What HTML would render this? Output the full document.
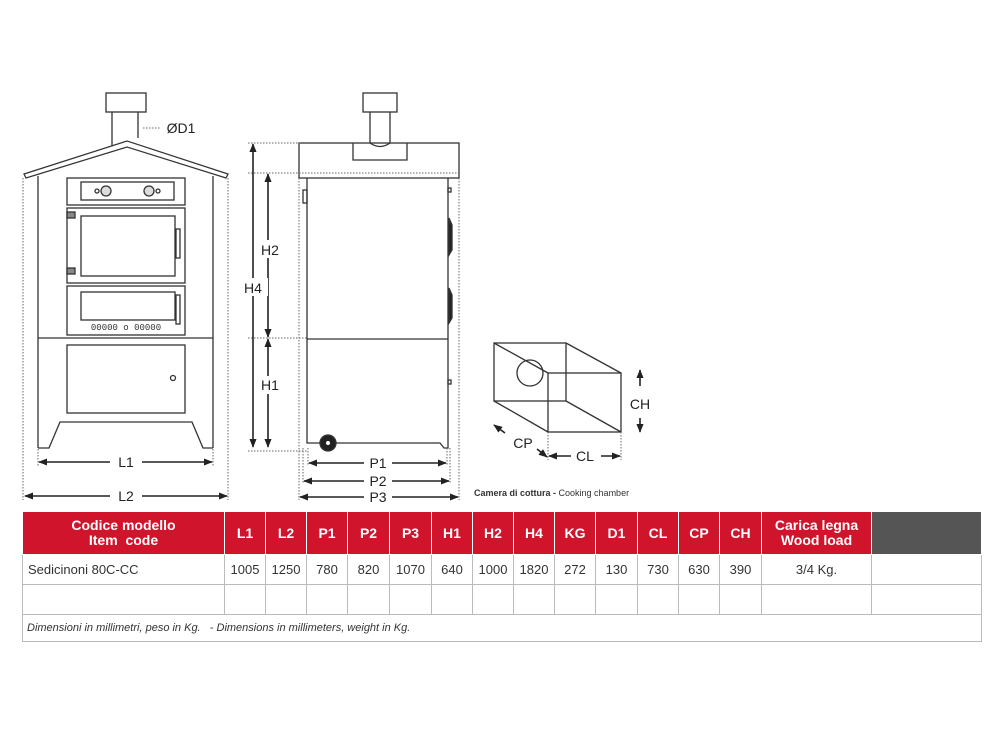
<!DOCTYPE html>
<html><head><meta charset="utf-8"><style>
body{margin:0;width:1000px;height:750px;background:#fff;font-family:"Liberation Sans",sans-serif;overflow:hidden;position:relative}
svg{position:absolute;left:0;top:0}
table{position:absolute;left:22px;top:511px;border-collapse:collapse;width:959px;table-layout:fixed}
td{border:1px solid #bbb;text-align:center;font-size:13px;color:#333;padding:0;height:29px}
tr.h td{background:#d0142c;color:#fff;font-weight:bold;font-size:14px;height:42px;border:1px solid #fff;line-height:15px}
tr.h td.g{background:#555}
td.l{text-align:left;padding-left:5px}
td.f{text-align:left;font-style:italic;font-size:11px;padding-left:4px;height:26px}
</style></head><body>
<svg width="1000" height="510" viewBox="0 0 1000 510">
<defs><marker id="a" viewBox="0 0 10 10" refX="9" refY="5" markerWidth="9" markerHeight="9" orient="auto-start-reverse" markerUnits="userSpaceOnUse"><path d="M0,1 L10,5 L0,9z" fill="#222"/></marker></defs>
<g fill="none" stroke="#333" stroke-width="1.3">
<rect x="106" y="93" width="40" height="19"/>
<path d="M112,112 V148 M138,112 V138"/>
<path d="M24,174 L127,141 L228,174 L226,178 L127,147 L26,178 Z" fill="#fff"/>
<path d="M38,176 V448 M213,176 V448"/>
<rect x="67" y="178" width="118" height="27"/>
<rect x="81" y="182" width="93" height="18"/>
<circle cx="106" cy="191" r="5" fill="#ddd"/><circle cx="149" cy="191" r="5" fill="#ddd"/>
<circle cx="97" cy="191" r="2"/><circle cx="158" cy="191" r="2"/>
<rect x="67" y="208" width="118" height="75"/>
<rect x="81" y="216" width="94" height="60"/>
<rect x="176" y="229" width="4" height="29"/>
<rect x="67" y="212" width="8" height="6" fill="#888"/><rect x="67" y="268" width="8" height="6" fill="#888"/>
<rect x="67" y="286" width="118" height="49"/>
<rect x="81" y="292" width="94" height="28"/>
<rect x="176" y="295" width="4" height="29"/>
<path d="M38,338 H213"/>
<rect x="67" y="345" width="118" height="68"/>
<circle cx="173" cy="378" r="2.5"/>
<path d="M38,448 H49 L60,422 H192 L203,448 H213"/>
<rect x="363" y="93" width="34" height="19"/>
<path d="M370,112 V143 M390,112 V143"/>
<rect x="299" y="143" width="160" height="35"/>
<path d="M353,143 V160 H407 V143"/>
<path d="M370,143 Q380,150 390,143"/>
<path d="M307,178 V443 H440 L444,448 H448 V178"/>
<path d="M307,339 H448"/>
<rect x="303" y="190" width="4" height="13"/>
<path d="M449,218 L452,225 V250 L449,255 Z M449,288 L452,295 V318 L449,323 Z" fill="#222"/>
<rect x="448" y="188" width="3" height="4"/><rect x="448" y="380" width="3" height="4"/>
<circle cx="328" cy="443" r="8" fill="#222"/><circle cx="328" cy="443" r="2" fill="#fff" stroke="none"/>
<rect x="494" y="343" width="72" height="58"/>
<rect x="548" y="373" width="73" height="59"/>
<path d="M494,343 L548,373 M566,343 L621,373 M494,401 L548,432 M566,401 L621,432"/>
<circle cx="530" cy="373" r="13"/>
</g>
<text x="126" y="330" font-family="Liberation Mono,monospace" font-size="9" fill="#333" text-anchor="middle">00000 o 00000</text>
<g stroke="#666" stroke-width="1" stroke-dasharray="1.5,1.5" fill="none">
<path d="M23,178 V500 M228,178 V500 M38,449 V466 M213,449 V466"/>
<path d="M143,128 H160"/>
<path d="M248,143 H300 M248,173 H459 M248,338 H307 M248,451 H307"/>
<path d="M299,178 V500 M459,178 V500 M303,448 V484 M450,448 V484 M308,448 V466 M447,448 V466"/>
<path d="M548,432 V460 M621,432 V460"/>
</g>
<g stroke="#222" stroke-width="1.6" fill="none" marker-start="url(#a)" marker-end="url(#a)">
<path d="M39,462 H212"/><path d="M25,496 H227"/>
<path d="M253,144 V447"/><path d="M268,174 V337"/><path d="M268,339 V447"/>
<path d="M309,463 H446"/><path d="M304,481 H449"/><path d="M300,497 H458"/>
<path d="M549,456 H620"/>
</g>
<g stroke="#222" stroke-width="1.6" fill="none" marker-end="url(#a)">
<path d="M640,386 V370"/><path d="M640,418 V432"/>
<path d="M505,433 L494,425"/><path d="M537,449 L547,457"/>
</g>
<g font-family="Liberation Sans,sans-serif" font-size="14" fill="#222" text-anchor="middle">
<rect x="110" y="455" width="32" height="14" fill="#fff"/><text x="126" y="467">L1</text>
<rect x="110" y="489" width="32" height="14" fill="#fff"/><text x="126" y="501">L2</text>
<text x="181" y="133">ØD1</text>
<rect x="240" y="278" width="28" height="18" fill="#fff"/><text x="253" y="293">H4</text>
<rect x="258" y="240" width="22" height="18" fill="#fff"/><text x="270" y="255">H2</text>
<rect x="258" y="376" width="22" height="18" fill="#fff"/><text x="270" y="390">H1</text>
<rect x="364" y="456" width="28" height="14" fill="#fff"/><text x="378" y="468">P1</text>
<rect x="364" y="474" width="28" height="14" fill="#fff"/><text x="378" y="486">P2</text>
<rect x="364" y="490" width="28" height="14" fill="#fff"/><text x="378" y="502">P3</text>
<text x="640" y="409">CH</text>
<text x="523" y="448">CP</text>
<rect x="571" y="449" width="30" height="14" fill="#fff"/><text x="585" y="461">CL</text>
</g>
<text x="474" y="496" font-family="Liberation Sans,sans-serif" font-size="9" fill="#333"><tspan font-weight="bold">Camera di cottura - </tspan>Cooking chamber</text>
</svg>
<table>
<colgroup><col style="width:202px"><col style="width:41px"><col style="width:41px"><col style="width:41px"><col style="width:42px"><col style="width:42px"><col style="width:41px"><col style="width:41px"><col style="width:41px"><col style="width:41px"><col style="width:42px"><col style="width:41px"><col style="width:41px"><col style="width:42px"><col style="width:110px"><col style="width:110px"></colgroup>
<tr class="h"><td>Codice modello<br>Item&nbsp; code</td><td>L1</td><td>L2</td><td>P1</td><td>P2</td><td>P3</td><td>H1</td><td>H2</td><td>H4</td><td>KG</td><td>D1</td><td>CL</td><td>CP</td><td>CH</td><td>Carica legna<br>Wood load</td><td class="g"></td></tr>
<tr><td class="l">Sedicinoni 80C-CC</td><td>1005</td><td>1250</td><td>780</td><td>820</td><td>1070</td><td>640</td><td>1000</td><td>1820</td><td>272</td><td>130</td><td>730</td><td>630</td><td>390</td><td>3/4 Kg.</td><td></td></tr>
<tr><td></td><td></td><td></td><td></td><td></td><td></td><td></td><td></td><td></td><td></td><td></td><td></td><td></td><td></td><td></td><td></td></tr>
<tr><td class="f" colspan="16">Dimensioni in millimetri, peso in Kg. &nbsp;&nbsp;- Dimensions in millimeters, weight in Kg.</td></tr>
</table>
</body></html>
